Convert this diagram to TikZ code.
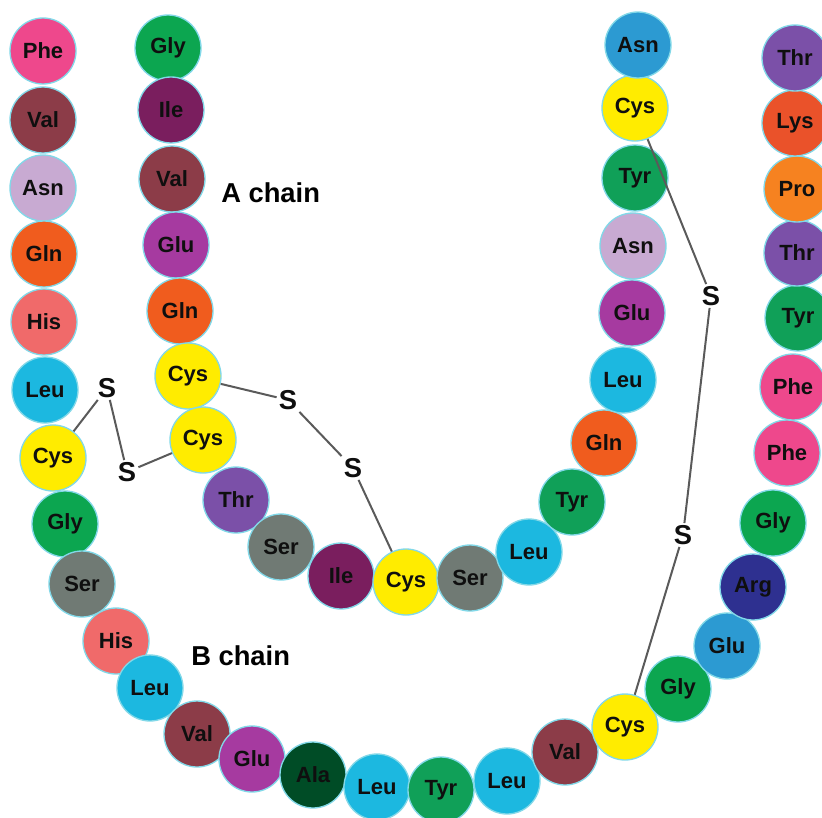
\documentclass[tikz,border=0pt]{standalone}
\usepackage{fontspec}
\setmainfont{Liberation Sans}
\definecolor{cPhe}{RGB}{238,72,140}
\definecolor{cVal}{RGB}{140,60,72}
\definecolor{cLav}{RGB}{200,170,210}
\definecolor{cGln}{RGB}{240,92,30}
\definecolor{cHis}{RGB}{240,106,106}
\definecolor{cLeu}{RGB}{28,184,224}
\definecolor{cCys}{RGB}{255,236,0}
\definecolor{cGly}{RGB}{12,166,80}
\definecolor{cSer}{RGB}{112,122,116}
\definecolor{cIle}{RGB}{122,30,94}
\definecolor{cGlu}{RGB}{166,58,160}
\definecolor{cThr}{RGB}{123,80,168}
\definecolor{cAla}{RGB}{0,76,38}
\definecolor{cTyr}{RGB}{16,160,88}
\definecolor{cBlu}{RGB}{44,154,210}
\definecolor{cArg}{RGB}{46,48,144}
\definecolor{cLys}{RGB}{234,82,42}
\definecolor{cPro}{RGB}{246,130,32}
\definecolor{cRim}{RGB}{130,216,232}
\definecolor{cTxt}{RGB}{15,15,15}
\definecolor{cLink}{RGB}{90,90,90}
\tikzset{
  aa/.style={circle, draw=cRim, line width=1pt, fill=#1, minimum size=49.5pt,
    inner sep=0pt, font=\bfseries\fontsize{16.5}{16.5}\selectfont, text=cTxt},
  sulf/.style={inner sep=1.5pt, font=\bfseries\fontsize{20.5}{20.5}\selectfont, text=cTxt},
  chainlabel/.style={inner sep=0pt, font=\bfseries\fontsize{20.5}{20.5}\selectfont},
  bond/.style={draw=cLink, line width=1.5pt}
}
\begin{document}
\begin{tikzpicture}[x=0.75pt,y=-0.75pt]
\useasboundingbox (0,0) rectangle (822,818);
% B chain
\foreach \n/\x/\y/\lab/\col in {
  1/43/51/Phe/cPhe, 2/43/120/Val/cVal, 3/43/188/Asn/cLav, 4/44/254/Gln/cGln,
  5/44/322/His/cHis, 6/45/390/Leu/cLeu, 7/53/458/Cys/cCys, 8/65/524/Gly/cGly,
  9/82/584/Ser/cSer, 10/116/641/His/cHis, 11/150/688/Leu/cLeu, 12/197/734/Val/cVal,
  13/252/759/Glu/cGlu, 14/313/775/Ala/cAla, 15/377/787/Leu/cLeu, 16/441/790/Tyr/cTyr,
  17/507/781/Leu/cLeu, 18/565/752/Val/cVal, 19/625/727/Cys/cCys, 20/678/689/Gly/cGly,
  21/727/646/Glu/cBlu, 22/753/587/Arg/cArg, 23/773/523/Gly/cGly, 24/787/453/Phe/cPhe,
  25/793/387/Phe/cPhe, 26/798/318/Tyr/cTyr, 27/797/253/Thr/cThr, 28/797/189/Pro/cPro,
  29/795/123/Lys/cLys, 30/795/58/Thr/cThr}
  \node[aa=\col] (b\n) at (\x,\y) {\lab};
% A chain
\foreach \n/\x/\y/\lab/\col in {
  1/168/48/Gly/cGly, 2/171/110/Ile/cIle, 3/172/179/Val/cVal, 4/176/245/Glu/cGlu,
  5/180/311/Gln/cGln, 6/188/376/Cys/cCys, 7/203/440/Cys/cCys, 8/236/500/Thr/cThr,
  9/281/547/Ser/cSer, 10/341/576/Ile/cIle, 11/406/582/Cys/cCys, 12/470/578/Ser/cSer,
  13/529/552/Leu/cLeu, 14/572/502/Tyr/cTyr, 15/604/443/Gln/cGln, 16/623/380/Leu/cLeu,
  17/632/313/Glu/cGlu, 18/633/246/Asn/cLav, 19/635/178/Tyr/cTyr, 20/635/108/Cys/cCys,
  21/638/45/Asn/cBlu}
  \node[aa=\col] (a\n) at (\x,\y) {\lab};
% sulfur atoms
\node[sulf] (s1) at (107,388) {S};
\node[sulf] (s2) at (127,472) {S};
\node[sulf] (s3) at (288,400) {S};
\node[sulf] (s4) at (353,468) {S};
\node[sulf] (s5) at (711,296) {S};
\node[sulf] (s6) at (683,535) {S};
% disulfide bonds
\draw[bond] (b7) -- (s1) -- (s2) -- (a7);
\draw[bond] (a6) -- (s3) -- (s4) -- (a11);
\draw[bond] (a20) -- (s5) -- (s6) -- (b19);
% labels
\node[chainlabel, anchor=west] (la) at (221,193) {A chain};
\node[chainlabel, anchor=west] (lb) at (191,656) {B chain};
\end{tikzpicture}
\end{document}
